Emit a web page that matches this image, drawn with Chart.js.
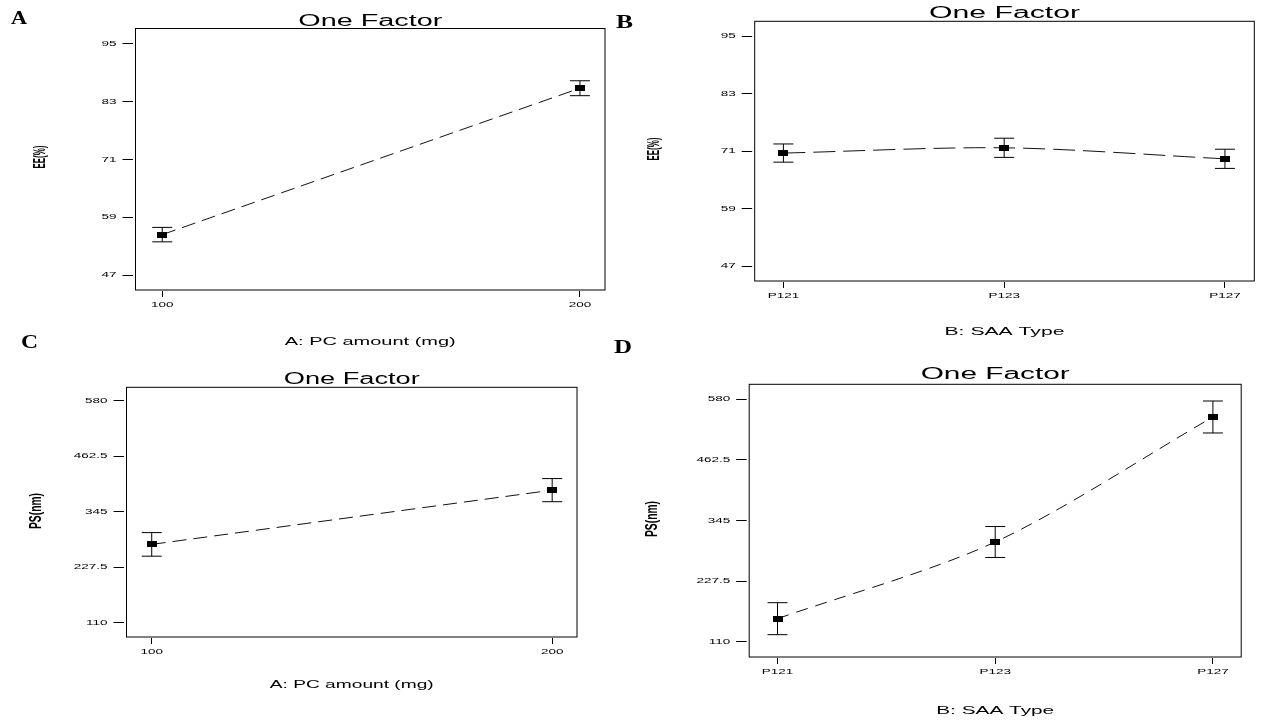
<!DOCTYPE html>
<html>
<head>
<meta charset="utf-8">
<script src="https://cdn.jsdelivr.net/npm/chart.js"></script>
<style>
  html, body { margin: 0; background: #fff; }
  body { width: 1280px; height: 720px; position: relative; overflow: hidden; }
  canvas { position: absolute; }
</style>
</head>
<body>
<canvas id="chartA"></canvas>
<canvas id="chartB"></canvas>
<canvas id="chartC"></canvas>
<canvas id="chartD"></canvas>
<script>
// data
const pcAmount = [100, 200];
const saaIndex = [0, 1, 2];
const saaTypes = ['P121', 'P123', 'P127'];

const eeByPc = [55.4, 85.8];
const eeByPcErr = [1.5, 1.55];
const eeBySaa = [70.6, 71.7, 69.4];
const eeBySaaErr = [1.9, 2.0, 2.0];

const psByPc = [276, 391];
const psByPcErr = [25, 24.5];
const psBySaa = [154.6, 303.3, 545.7];
const psBySaaErr = [31, 30, 31];

const eeTicks = [47, 59, 71, 83, 95];
const psTicks = [110, 227.5, 345, 462.5, 580];
const pcLabels = ['100', '200'];

const TITLE = 'One Factor';
const TICK_FONT = '7.5px "Liberation Sans"';
const TICK_SX = 1.8;

// small black rectangle used as the marker (the figure is stretched sideways)
const marker = document.createElement('canvas');
marker.width = 10;
marker.height = 6;
const mctx = marker.getContext('2d');
mctx.fillStyle = '#000';
mctx.fillRect(0, 0, 10, 6);

function points(xs, ys) {
    return xs.map((x, i) => ({ x: x, y: ys[i] }));
}

function stems(xs, ys, errs) {
    const out = [];
    xs.forEach((x, i) => {
        out.push({ x: x, y: ys[i] - errs[i] }, { x: x, y: ys[i] + errs[i] }, { x: x, y: null });
    });
    return out;
}

function caps(xs, ys, errs, sign) {
    return xs.map((x, i) => ({ x: x, y: ys[i] + sign * errs[i] }));
}

// draw text squeezed/stretched to a given width
function stretchText(ctx, text, x, y, font, width, align, baseline) {
    ctx.save();
    ctx.font = font;
    const w = ctx.measureText(text).width;
    const sx = width ? width / w : TICK_SX;
    ctx.translate(x, y);
    ctx.scale(sx, 1);
    ctx.textAlign = align;
    ctx.textBaseline = baseline;
    ctx.fillStyle = '#000';
    ctx.fillText(text, 0, 0);
    ctx.restore();
}

function verticalText(ctx, text, x, y, font, length, thick) {
    ctx.save();
    ctx.font = font;
    const w = ctx.measureText(text).width;
    ctx.translate(x, y);
    ctx.scale(thick, 1);
    ctx.rotate(-Math.PI / 2);
    ctx.scale(length / w, 1);
    ctx.textAlign = 'center';
    ctx.textBaseline = 'middle';
    ctx.fillStyle = '#000';
    ctx.fillText(text, 0, 0);
    ctx.restore();
}

function decor(p) {
    return {
        id: 'decor' + p.letter,
        afterDraw(chart) {
            const ctx = chart.ctx;
            const a = chart.chartArea;
            const ox = p.at[0], oy = p.at[1];
            const xs = chart.scales.x, ys = chart.scales.y;

            ctx.save();
            ctx.strokeStyle = '#000';
            ctx.lineWidth = 1;
            ctx.strokeRect(a.left, a.top, a.right - a.left, a.bottom - a.top);
            ctx.restore();

            ys.ticks.forEach(t => {
                stretchText(ctx, String(t.value), a.left - 19, ys.getPixelForValue(t.value),
                    TICK_FONT, 0, 'right', 'middle');
            });
            xs.ticks.forEach((t, i) => {
                stretchText(ctx, p.xLabels[i], xs.getPixelForValue(t.value), a.bottom + 15,
                    TICK_FONT, 0, 'center', 'middle');
            });

            const cx = (a.left + a.right) / 2;
            stretchText(ctx, TITLE, cx, p.titleY - oy, '16px "Liberation Sans"', p.titleW, 'center', 'alphabetic');
            stretchText(ctx, p.xTitle, cx, p.xTitleY - oy, '11.5px "Liberation Sans"', p.xTitleW, 'center', 'alphabetic');
            verticalText(ctx, p.yTitle, p.yTitlePos[0] - ox, p.yTitlePos[1] - oy,
                'bold 9px "Liberation Sans"', p.yTitleLen, 1.8);
            stretchText(ctx, p.letter, p.letterPos[0] - ox, p.letterPos[1] - oy,
                'bold 19px "Liberation Serif"', p.letterW, 'left', 'alphabetic');
        }
    };
}

const panels = [
    {
        id: 'chartA', letter: 'A', at: [0, 0, 616, 358], box: [135.5, 28.5, 607.5, 290],
        xs: pcAmount, ys: eeByPc, errs: eeByPcErr, xTicks: pcAmount, xLabels: pcLabels, yTicks: eeTicks,
        xRange: [93.6, 206], yRange: [43.9, 98.2], dash: [14, 7], tension: 0,
        titleY: 25.7, titleW: 144, xTitle: 'A: PC amount (mg)', xTitleY: 345, xTitleW: 171,
        yTitle: 'EE(%)', yTitlePos: [41, 157], yTitleLen: 23, letterPos: [11, 24], letterW: 16
    },
    {
        id: 'chartB', letter: 'B', at: [612, 0, 668, 358], box: [754.7, 21.3, 1254.3, 281],
        xs: saaIndex, ys: eeBySaa, errs: eeBySaaErr, xTicks: saaIndex, xLabels: saaTypes, yTicks: eeTicks,
        xRange: [-0.13, 2.133], yRange: [43.9, 98.1], dash: [22, 8], tension: 0.3,
        titleY: 18.3, titleW: 151, xTitle: 'B: SAA Type', xTitleY: 335, xTitleW: 120,
        yTitle: 'EE(%)', yTitlePos: [655, 149], yTitleLen: 23, letterPos: [616, 28], letterW: 17
    },
    {
        id: 'chartC', letter: 'C', at: [0, 326, 612, 394], box: [126.5, 387.3, 577, 637],
        xs: pcAmount, ys: psByPc, errs: psByPcErr, xTicks: pcAmount, xLabels: pcLabels, yTicks: psTicks,
        xRange: [93.7, 206.2], yRange: [79.7, 609], dash: [14, 7], tension: 0,
        titleY: 384.3, titleW: 136, xTitle: 'A: PC amount (mg)', xTitleY: 688, xTitleW: 164,
        yTitle: 'PS(nm)', yTitlePos: [37, 511], yTitleLen: 36, letterPos: [21, 348], letterW: 17
    },
    {
        id: 'chartD', letter: 'D', at: [610, 326, 670, 394], box: [749.2, 384.3, 1241.2, 657],
        xs: saaIndex, ys: psBySaa, errs: psBySaaErr, xTicks: saaIndex, xLabels: saaTypes, yTicks: psTicks,
        xRange: [-0.13, 2.13], yRange: [80.3, 609.1], dash: [12, 8], tension: 0.3,
        titleY: 379, titleW: 149, xTitle: 'B: SAA Type', xTitleY: 714, xTitleW: 118,
        yTitle: 'PS(nm)', yTitlePos: [653, 519], yTitleLen: 36, letterPos: [614, 353], letterW: 18
    }
];

function makePanel(p) {
    const canvas = document.getElementById(p.id);
    const [cx, cy, cw, ch] = p.at;
    const [bl, bt, br, bb] = p.box;
    canvas.width = cw;
    canvas.height = ch;
    canvas.style.left = cx + 'px';
    canvas.style.top = cy + 'px';

    new Chart(canvas, {
        type: 'line',
        data: {
            datasets: [
                {
                    data: points(p.xs, p.ys),
                    borderColor: '#111',
                    borderWidth: 1,
                    borderDash: p.dash,
                    tension: p.tension,
                    pointStyle: marker,
                    pointRadius: 5
                },
                {
                    data: stems(p.xs, p.ys, p.errs),
                    borderColor: '#000',
                    borderWidth: 1,
                    pointRadius: 0,
                    spanGaps: false
                },
                {
                    data: caps(p.xs, p.ys, p.errs, 1),
                    showLine: false,
                    pointStyle: 'line',
                    pointRadius: 10,
                    pointBorderColor: '#000',
                    pointBorderWidth: 1
                },
                {
                    data: caps(p.xs, p.ys, p.errs, -1),
                    showLine: false,
                    pointStyle: 'line',
                    pointRadius: 10,
                    pointBorderColor: '#000',
                    pointBorderWidth: 1
                }
            ]
        },
        options: {
            responsive: false,
            animation: false,
            devicePixelRatio: 1,
            layout: { padding: { left: 0, top: bt - cy, right: cx + cw - br, bottom: 0 } },
            plugins: { legend: { display: false }, tooltip: { enabled: false } },
            scales: {
                x: {
                    type: 'linear',
                    min: p.xRange[0],
                    max: p.xRange[1],
                    afterBuildTicks: s => { s.ticks = p.xTicks.map(v => ({ value: v })); },
                    afterFit: s => { s.height = cy + ch - bb; },
                    ticks: { display: false },
                    border: { display: false },
                    grid: { drawOnChartArea: false, color: '#000', tickLength: 7, tickBorderDash: [0, 1, 6, 20] }
                },
                y: {
                    type: 'linear',
                    min: p.yRange[0],
                    max: p.yRange[1],
                    afterBuildTicks: s => { s.ticks = p.yTicks.map(v => ({ value: v })); },
                    afterFit: s => { s.width = bl - cx; },
                    ticks: { display: false },
                    border: { display: false },
                    grid: { drawOnChartArea: false, color: '#000', tickLength: 13, tickBorderDash: [10.5, 20] }
                }
            }
        },
        plugins: [decor(p)]
    });
}

panels.forEach(makePanel);
</script>
</body>
</html>
